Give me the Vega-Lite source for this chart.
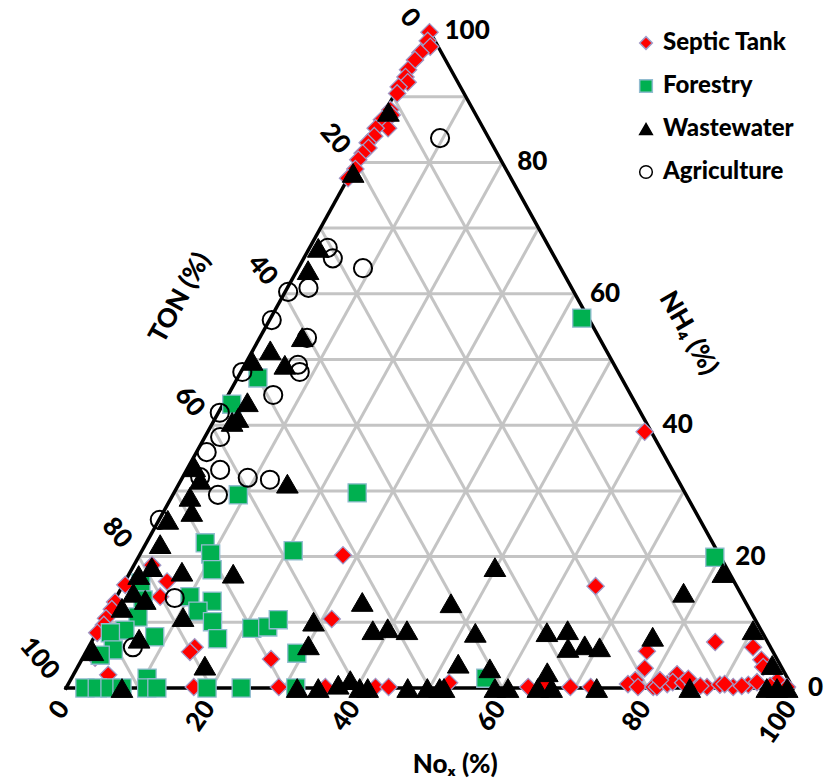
{
  "$schema": "https://vega.github.io/schema/vega-lite/v6.json",
  "width": 830,
  "height": 779,
  "autosize": {"type": "fit", "contains": "padding"},
  "padding": 0,
  "background": "white",
  "config": {"view": {"stroke": null}, "font": "Lato"},
  "datasets": {
    "grid": [
      {"NH4": 10, "NOx": 0, "NH4b": 10, "NOxb": 90},
      {"NH4": 20, "NOx": 0, "NH4b": 20, "NOxb": 80},
      {"NH4": 30, "NOx": 0, "NH4b": 30, "NOxb": 70},
      {"NH4": 40, "NOx": 0, "NH4b": 40, "NOxb": 60},
      {"NH4": 50, "NOx": 0, "NH4b": 50, "NOxb": 50},
      {"NH4": 60, "NOx": 0, "NH4b": 60, "NOxb": 40},
      {"NH4": 70, "NOx": 0, "NH4b": 70, "NOxb": 30},
      {"NH4": 80, "NOx": 0, "NH4b": 80, "NOxb": 20},
      {"NH4": 90, "NOx": 0, "NH4b": 90, "NOxb": 10},
      {"NH4": 0, "NOx": 10, "NH4b": 90, "NOxb": 10},
      {"NH4": 0, "NOx": 20, "NH4b": 80, "NOxb": 20},
      {"NH4": 0, "NOx": 30, "NH4b": 70, "NOxb": 30},
      {"NH4": 0, "NOx": 40, "NH4b": 60, "NOxb": 40},
      {"NH4": 0, "NOx": 50, "NH4b": 50, "NOxb": 50},
      {"NH4": 0, "NOx": 60, "NH4b": 40, "NOxb": 60},
      {"NH4": 0, "NOx": 70, "NH4b": 30, "NOxb": 70},
      {"NH4": 0, "NOx": 80, "NH4b": 20, "NOxb": 80},
      {"NH4": 0, "NOx": 90, "NH4b": 10, "NOxb": 90},
      {"NH4": 0, "NOx": 90, "NH4b": 90, "NOxb": 0},
      {"NH4": 0, "NOx": 80, "NH4b": 80, "NOxb": 0},
      {"NH4": 0, "NOx": 70, "NH4b": 70, "NOxb": 0},
      {"NH4": 0, "NOx": 60, "NH4b": 60, "NOxb": 0},
      {"NH4": 0, "NOx": 50, "NH4b": 50, "NOxb": 0},
      {"NH4": 0, "NOx": 40, "NH4b": 40, "NOxb": 0},
      {"NH4": 0, "NOx": 30, "NH4b": 30, "NOxb": 0},
      {"NH4": 0, "NOx": 20, "NH4b": 20, "NOxb": 0},
      {"NH4": 0, "NOx": 10, "NH4b": 10, "NOxb": 0}
    ],
    "frame": [
      {"NH4": 0, "NOx": 0, "NH4b": 0, "NOxb": 100},
      {"NH4": 0, "NOx": 100, "NH4b": 100, "NOxb": 0},
      {"NH4": 100, "NOx": 0, "NH4b": 0, "NOxb": 0}
    ],
    "samples": [
      {"source": "Septic Tank", "NH4": 99.8, "NOx": 0.1},
      {"source": "Septic Tank", "NH4": 98.5, "NOx": 0.5},
      {"source": "Septic Tank", "NH4": 97.6, "NOx": 1.3},
      {"source": "Septic Tank", "NH4": 96.7, "NOx": 0.4},
      {"source": "Septic Tank", "NH4": 95.6, "NOx": 0.2},
      {"source": "Septic Tank", "NH4": 94.1, "NOx": 0.0},
      {"source": "Septic Tank", "NH4": 93.0, "NOx": 0.2},
      {"source": "Septic Tank", "NH4": 92.2, "NOx": 0.9},
      {"source": "Septic Tank", "NH4": 91.5, "NOx": 0.0},
      {"source": "Septic Tank", "NH4": 90.5, "NOx": 0.3},
      {"source": "Septic Tank", "NH4": 88.0, "NOx": 0.6},
      {"source": "Septic Tank", "NH4": 87.2, "NOx": 1.2},
      {"source": "Septic Tank", "NH4": 86.5, "NOx": 0.2},
      {"source": "Septic Tank", "NH4": 85.2, "NOx": 1.7},
      {"source": "Septic Tank", "NH4": 85.2, "NOx": 0.0},
      {"source": "Septic Tank", "NH4": 84.0, "NOx": 0.4},
      {"source": "Septic Tank", "NH4": 83.0, "NOx": 0.0},
      {"source": "Septic Tank", "NH4": 82.2, "NOx": 0.5},
      {"source": "Septic Tank", "NH4": 81.4, "NOx": 0.1},
      {"source": "Septic Tank", "NH4": 80.4, "NOx": 0.0},
      {"source": "Septic Tank", "NH4": 79.0, "NOx": 0.3},
      {"source": "Septic Tank", "NH4": 77.6, "NOx": 0.0},
      {"source": "Septic Tank", "NH4": 39.0, "NOx": 60.1},
      {"source": "Septic Tank", "NH4": 20.2, "NOx": 28.0},
      {"source": "Septic Tank", "NH4": 15.5, "NOx": 65.1},
      {"source": "Septic Tank", "NH4": 7.0, "NOx": 85.8},
      {"source": "Septic Tank", "NH4": 10.5, "NOx": 31.3},
      {"source": "Septic Tank", "NH4": 4.4, "NOx": 26.0},
      {"source": "Septic Tank", "NH4": 0.15, "NOx": 29.2},
      {"source": "Septic Tank", "NH4": 0.15, "NOx": 35.6},
      {"source": "Septic Tank", "NH4": 0.15, "NOx": 42.5},
      {"source": "Septic Tank", "NH4": 0.15, "NOx": 44.3},
      {"source": "Septic Tank", "NH4": 0.8, "NOx": 52.3},
      {"source": "Septic Tank", "NH4": 0.15, "NOx": 63.5},
      {"source": "Septic Tank", "NH4": 0.8, "NOx": 65.5},
      {"source": "Septic Tank", "NH4": 0.15, "NOx": 69.3},
      {"source": "Septic Tank", "NH4": 0.15, "NOx": 72.1},
      {"source": "Septic Tank", "NH4": 5.6, "NOx": 77.1},
      {"source": "Septic Tank", "NH4": 3.0, "NOx": 78.1},
      {"source": "Septic Tank", "NH4": 1.2, "NOx": 77.7},
      {"source": "Septic Tank", "NH4": 0.6, "NOx": 77.0},
      {"source": "Septic Tank", "NH4": 0.15, "NOx": 78.6},
      {"source": "Septic Tank", "NH4": 0.15, "NOx": 80.7},
      {"source": "Septic Tank", "NH4": 0.15, "NOx": 81.2},
      {"source": "Septic Tank", "NH4": 0.6, "NOx": 82.4},
      {"source": "Septic Tank", "NH4": 2.1, "NOx": 83.0},
      {"source": "Septic Tank", "NH4": 0.9, "NOx": 83.0},
      {"source": "Septic Tank", "NH4": 0.8, "NOx": 84.5},
      {"source": "Septic Tank", "NH4": 0.5, "NOx": 86.0},
      {"source": "Septic Tank", "NH4": 0.15, "NOx": 88.1},
      {"source": "Septic Tank", "NH4": 0.5, "NOx": 89.7},
      {"source": "Septic Tank", "NH4": 0.15, "NOx": 91.7},
      {"source": "Septic Tank", "NH4": 0.5, "NOx": 93.6},
      {"source": "Septic Tank", "NH4": 6.2, "NOx": 91.4},
      {"source": "Septic Tank", "NH4": 4.3, "NOx": 93.5},
      {"source": "Septic Tank", "NH4": 3.2, "NOx": 94.3},
      {"source": "Septic Tank", "NH4": 0.9, "NOx": 94.6},
      {"source": "Septic Tank", "NH4": 1.1, "NOx": 97.3},
      {"source": "Septic Tank", "NH4": 0.15, "NOx": 99.1},
      {"source": "Septic Tank", "NH4": 0.3, "NOx": 87.1},
      {"source": "Septic Tank", "NH4": 0.3, "NOx": 92.8},
      {"source": "Septic Tank", "NH4": 1.2, "NOx": 81.1},
      {"source": "Septic Tank", "NH4": 1.4, "NOx": 84.9},
      {"source": "Septic Tank", "NH4": 0.6, "NOx": 90.3},
      {"source": "Septic Tank", "NH4": 0.3, "NOx": 96.7},
      {"source": "Septic Tank", "NH4": 16.2, "NOx": 5.8},
      {"source": "Septic Tank", "NH4": 18.7, "NOx": 2.5},
      {"source": "Septic Tank", "NH4": 15.7, "NOx": 0.3},
      {"source": "Septic Tank", "NH4": 13.1, "NOx": 0.2},
      {"source": "Septic Tank", "NH4": 12.0, "NOx": 0.3},
      {"source": "Septic Tank", "NH4": 10.6, "NOx": 0.2},
      {"source": "Septic Tank", "NH4": 9.6, "NOx": 0.4},
      {"source": "Septic Tank", "NH4": 8.4, "NOx": 0.1},
      {"source": "Septic Tank", "NH4": 13.9, "NOx": 6.0},
      {"source": "Septic Tank", "NH4": 6.2, "NOx": 14.6},
      {"source": "Septic Tank", "NH4": 5.5, "NOx": 14.3},
      {"source": "Septic Tank", "NH4": 4.6, "NOx": 1.7},
      {"source": "Septic Tank", "NH4": 2.0, "NOx": 4.8},
      {"source": "Septic Tank", "NH4": 0.15, "NOx": 17.5},
      {"source": "Forestry", "NH4": 56.3, "NOx": 42.8},
      {"source": "Forestry", "NH4": 19.9, "NOx": 79.3},
      {"source": "Forestry", "NH4": 29.7, "NOx": 25.2},
      {"source": "Forestry", "NH4": 29.4, "NOx": 9.0},
      {"source": "Forestry", "NH4": 20.9, "NOx": 20.8},
      {"source": "Forestry", "NH4": 47.2, "NOx": 2.8},
      {"source": "Forestry", "NH4": 43.2, "NOx": 1.2},
      {"source": "Forestry", "NH4": 1.5, "NOx": 57.0},
      {"source": "Forestry", "NH4": 5.3, "NOx": 29.1},
      {"source": "Forestry", "NH4": 9.1, "NOx": 21.0},
      {"source": "Forestry", "NH4": 9.3, "NOx": 23.1},
      {"source": "Forestry", "NH4": 10.4, "NOx": 24.0},
      {"source": "Forestry", "NH4": 0, "NOx": 31.6},
      {"source": "Forestry", "NH4": 0, "NOx": 24.1},
      {"source": "Forestry", "NH4": 0, "NOx": 19.4},
      {"source": "Forestry", "NH4": 22.1, "NOx": 8.1},
      {"source": "Forestry", "NH4": 20.4, "NOx": 9.7},
      {"source": "Forestry", "NH4": 18.0, "NOx": 11.1},
      {"source": "Forestry", "NH4": 13.9, "NOx": 10.1},
      {"source": "Forestry", "NH4": 13.2, "NOx": 13.5},
      {"source": "Forestry", "NH4": 11.7, "NOx": 12.3},
      {"source": "Forestry", "NH4": 10.1, "NOx": 15.1},
      {"source": "Forestry", "NH4": 7.5, "NOx": 17.1},
      {"source": "Forestry", "NH4": 16.0, "NOx": 2.3},
      {"source": "Forestry", "NH4": 13.4, "NOx": 3.9},
      {"source": "Forestry", "NH4": 10.8, "NOx": 4.5},
      {"source": "Forestry", "NH4": 8.8, "NOx": 3.7},
      {"source": "Forestry", "NH4": 8.4, "NOx": 1.9},
      {"source": "Forestry", "NH4": 7.8, "NOx": 8.3},
      {"source": "Forestry", "NH4": 5.8, "NOx": 3.6},
      {"source": "Forestry", "NH4": 5.0, "NOx": 2.2},
      {"source": "Forestry", "NH4": 1.5, "NOx": 10.4},
      {"source": "Forestry", "NH4": 0, "NOx": 2.6},
      {"source": "Forestry", "NH4": 0, "NOx": 4.3},
      {"source": "Forestry", "NH4": 0, "NOx": 6.05},
      {"source": "Forestry", "NH4": 0, "NOx": 7.7},
      {"source": "Forestry", "NH4": 0, "NOx": 11.1},
      {"source": "Forestry", "NH4": 0, "NOx": 12.5},
      {"source": "Wastewater", "NH4": 87.7, "NOx": 0.5},
      {"source": "Wastewater", "NH4": 78.4, "NOx": 0.3},
      {"source": "Wastewater", "NH4": 67.0, "NOx": 1.2},
      {"source": "Wastewater", "NH4": 63.6, "NOx": 1.5},
      {"source": "Wastewater", "NH4": 53.4, "NOx": 5.8},
      {"source": "Wastewater", "NH4": 51.4, "NOx": 2.4},
      {"source": "Wastewater", "NH4": 49.8, "NOx": 0.7},
      {"source": "Wastewater", "NH4": 49.2, "NOx": 5.5},
      {"source": "Wastewater", "NH4": 43.5, "NOx": 3.2},
      {"source": "Wastewater", "NH4": 41.1, "NOx": 3.1},
      {"source": "Wastewater", "NH4": 40.5, "NOx": 2.6},
      {"source": "Wastewater", "NH4": 33.6, "NOx": 0.9},
      {"source": "Wastewater", "NH4": 31.7, "NOx": 2.6},
      {"source": "Wastewater", "NH4": 29.1, "NOx": 2.5},
      {"source": "Wastewater", "NH4": 26.8, "NOx": 3.9},
      {"source": "Wastewater", "NH4": 25.6, "NOx": 1.2},
      {"source": "Wastewater", "NH4": 21.9, "NOx": 2.0},
      {"source": "Wastewater", "NH4": 31.1, "NOx": 14.9},
      {"source": "Wastewater", "NH4": 18.4, "NOx": 2.6},
      {"source": "Wastewater", "NH4": 17.7, "NOx": 7.1},
      {"source": "Wastewater", "NH4": 17.4, "NOx": 14.3},
      {"source": "Wastewater", "NH4": 17.2, "NOx": 1.4},
      {"source": "Wastewater", "NH4": 14.5, "NOx": 2.0},
      {"source": "Wastewater", "NH4": 13.4, "NOx": 4.2},
      {"source": "Wastewater", "NH4": 12.2, "NOx": 1.6},
      {"source": "Wastewater", "NH4": 10.8, "NOx": 10.7},
      {"source": "Wastewater", "NH4": 7.5, "NOx": 6.3},
      {"source": "Wastewater", "NH4": 5.6, "NOx": 0.9},
      {"source": "Wastewater", "NH4": 3.4, "NOx": 17.4},
      {"source": "Wastewater", "NH4": 0, "NOx": 7.7},
      {"source": "Wastewater", "NH4": 13.1, "NOx": 34.2},
      {"source": "Wastewater", "NH4": 10.1, "NOx": 29.0},
      {"source": "Wastewater", "NH4": 6.5, "NOx": 30.1},
      {"source": "Wastewater", "NH4": 8.8, "NOx": 37.8},
      {"source": "Wastewater", "NH4": 9.1, "NOx": 39.7},
      {"source": "Wastewater", "NH4": 8.8, "NOx": 42.5},
      {"source": "Wastewater", "NH4": 12.9, "NOx": 46.5},
      {"source": "Wastewater", "NH4": 3.7, "NOx": 52.1},
      {"source": "Wastewater", "NH4": 18.4, "NOx": 49.8},
      {"source": "Wastewater", "NH4": 8.4, "NOx": 52.1},
      {"source": "Wastewater", "NH4": 8.5, "NOx": 61.9},
      {"source": "Wastewater", "NH4": 8.8, "NOx": 64.6},
      {"source": "Wastewater", "NH4": 6.1, "NOx": 66.0},
      {"source": "Wastewater", "NH4": 6.5, "NOx": 68.1},
      {"source": "Wastewater", "NH4": 6.2, "NOx": 70.3},
      {"source": "Wastewater", "NH4": 7.8, "NOx": 76.8},
      {"source": "Wastewater", "NH4": 3.0, "NOx": 56.8},
      {"source": "Wastewater", "NH4": 2.4, "NOx": 65.0},
      {"source": "Wastewater", "NH4": 14.5, "NOx": 77.7},
      {"source": "Wastewater", "NH4": 17.5, "NOx": 81.6},
      {"source": "Wastewater", "NH4": 8.8, "NOx": 90.1},
      {"source": "Wastewater", "NH4": 3.5, "NOx": 95.4},
      {"source": "Wastewater", "NH4": 0, "NOx": 31.8},
      {"source": "Wastewater", "NH4": 0, "NOx": 34.7},
      {"source": "Wastewater", "NH4": 0.5, "NOx": 37.2},
      {"source": "Wastewater", "NH4": 1.2, "NOx": 38.5},
      {"source": "Wastewater", "NH4": 0, "NOx": 40.4},
      {"source": "Wastewater", "NH4": 0, "NOx": 41.5},
      {"source": "Wastewater", "NH4": 0, "NOx": 47.0},
      {"source": "Wastewater", "NH4": 0, "NOx": 49.7},
      {"source": "Wastewater", "NH4": 0, "NOx": 51.4},
      {"source": "Wastewater", "NH4": 0, "NOx": 52.0},
      {"source": "Wastewater", "NH4": 0, "NOx": 59.0},
      {"source": "Wastewater", "NH4": 0, "NOx": 60.8},
      {"source": "Wastewater", "NH4": 0, "NOx": 64.9},
      {"source": "Wastewater", "NH4": 0, "NOx": 66.8},
      {"source": "Wastewater", "NH4": 0, "NOx": 73.0},
      {"source": "Wastewater", "NH4": 0, "NOx": 85.8},
      {"source": "Wastewater", "NH4": 0, "NOx": 96.4},
      {"source": "Wastewater", "NH4": 0, "NOx": 97.8},
      {"source": "Wastewater", "NH4": 0, "NOx": 99.2},
      {"source": "Agriculture", "NH4": 83.7, "NOx": 9.6},
      {"source": "Agriculture", "NH4": 67.0, "NOx": 2.5},
      {"source": "Agriculture", "NH4": 65.4, "NOx": 4.0},
      {"source": "Agriculture", "NH4": 63.9, "NOx": 8.9},
      {"source": "Agriculture", "NH4": 60.9, "NOx": 2.9},
      {"source": "Agriculture", "NH4": 60.3, "NOx": 0.4},
      {"source": "Agriculture", "NH4": 56.0, "NOx": 0.3},
      {"source": "Agriculture", "NH4": 53.3, "NOx": 6.5},
      {"source": "Agriculture", "NH4": 49.2, "NOx": 7.3},
      {"source": "Agriculture", "NH4": 48.1, "NOx": 8.1},
      {"source": "Agriculture", "NH4": 48.1, "NOx": 0.2},
      {"source": "Agriculture", "NH4": 44.6, "NOx": 6.2},
      {"source": "Agriculture", "NH4": 41.9, "NOx": 0.2},
      {"source": "Agriculture", "NH4": 38.2, "NOx": 2.1},
      {"source": "Agriculture", "NH4": 35.9, "NOx": 1.4},
      {"source": "Agriculture", "NH4": 33.2, "NOx": 4.6},
      {"source": "Agriculture", "NH4": 32.1, "NOx": 2.4},
      {"source": "Agriculture", "NH4": 32.0, "NOx": 9.0},
      {"source": "Agriculture", "NH4": 31.7, "NOx": 12.2},
      {"source": "Agriculture", "NH4": 29.4, "NOx": 6.2},
      {"source": "Agriculture", "NH4": 25.6, "NOx": 0.1},
      {"source": "Agriculture", "NH4": 13.7, "NOx": 8.1},
      {"source": "Agriculture", "NH4": 6.2, "NOx": 6.1}
    ],
    "ticksRight": [
      {"label": "0", "NH4": 0, "NOx": 100},
      {"label": "20", "NH4": 20, "NOx": 80},
      {"label": "40", "NH4": 40, "NOx": 60},
      {"label": "60", "NH4": 60, "NOx": 40},
      {"label": "80", "NH4": 80, "NOx": 20},
      {"label": "100", "NH4": 100, "NOx": 0}
    ],
    "ticksLeft": [
      {"label": "0", "NH4": 100, "NOx": 0},
      {"label": "20", "NH4": 80, "NOx": 0},
      {"label": "40", "NH4": 60, "NOx": 0},
      {"label": "60", "NH4": 40, "NOx": 0},
      {"label": "80", "NH4": 20, "NOx": 0},
      {"label": "100", "NH4": 0, "NOx": 0}
    ],
    "ticksBottom": [
      {"label": "0", "NH4": 0, "NOx": 0},
      {"label": "20", "NH4": 0, "NOx": 20},
      {"label": "40", "NH4": 0, "NOx": 40},
      {"label": "60", "NH4": 0, "NOx": 60},
      {"label": "80", "NH4": 0, "NOx": 80},
      {"label": "100", "NH4": 0, "NOx": 100}
    ],
    "titles": [
      {"label": "TON (%)", "NH4": 59.4, "NOx": -14.0, "angle": 299},
      {"label": "NH₄ (%)", "NH4": 54.0, "NOx": 58.6, "angle": 60},
      {"label": "Noₓ (%)", "NH4": -11.7, "NOx": 59.4, "angle": 0}
    ]
  },
  "layer": [
    {
      "data": {"name": "grid"},
      "transform": [
        {"calculate": "datum.NOx + datum.NH4 / 2", "as": "x"},
        {"calculate": "datum.NOxb + datum.NH4b / 2", "as": "x2"}
      ],
      "mark": {"type": "rule", "color": "#C4C4C4", "strokeWidth": 3},
      "encoding": {
        "x": {"field": "x", "type": "quantitative", "scale": {"domain": [-9.08, 105.09], "nice": false, "zero": false}, "axis": null},
        "y": {"field": "NH4", "type": "quantitative", "scale": {"domain": [-13.85, 104.72], "nice": false, "zero": false}, "axis": null},
        "x2": {"field": "x2"},
        "y2": {"field": "NH4b"}
      }
    },
    {
      "data": {"name": "frame"},
      "transform": [
        {"calculate": "datum.NOx + datum.NH4 / 2", "as": "x"},
        {"calculate": "datum.NOxb + datum.NH4b / 2", "as": "x2"}
      ],
      "mark": {"type": "rule", "color": "#000000", "strokeWidth": 3.5, "strokeCap": "square"},
      "encoding": {
        "x": {"field": "x", "type": "quantitative", "scale": {"domain": [-9.08, 105.09], "nice": false, "zero": false}, "axis": null},
        "y": {"field": "NH4", "type": "quantitative", "scale": {"domain": [-13.85, 104.72], "nice": false, "zero": false}, "axis": null},
        "x2": {"field": "x2"},
        "y2": {"field": "NH4b"}
      }
    },
    {
      "data": {"name": "samples"},
      "transform": [
        {"filter": "datum.source === 'Septic Tank'"},
        {"calculate": "datum.NOx + datum.NH4 / 2", "as": "x"}
      ],
      "mark": {"type": "point", "filled": true, "opacity": 1, "size": 300, "strokeWidth": 1.3},
      "encoding": {
        "x": {"field": "x", "type": "quantitative", "scale": {"domain": [-9.08, 105.09], "nice": false, "zero": false}, "axis": null},
        "y": {"field": "NH4", "type": "quantitative", "scale": {"domain": [-13.85, 104.72], "nice": false, "zero": false}, "axis": null},
        "shape": {"field": "source", "type": "nominal", "scale": {"domain": ["Septic Tank", "Forestry", "Wastewater", "Agriculture"], "range": ["diamond", "square", "triangle-up", "circle"]}, "legend": {"title": null, "orient": "none", "legendX": 634, "legendY": 31, "padding": 0, "labelFont": "Lato", "labelFontSize": 24, "labelFontWeight": 900, "labelColor": "#000000", "symbolSize": 160, "symbolStrokeWidth": 1.5, "rowPadding": 19, "labelOffset": 5}},
        "fill": {"field": "source", "type": "nominal", "scale": {"domain": ["Septic Tank", "Forestry", "Wastewater", "Agriculture"], "range": ["#FF0000", "#00B050", "#000000", "transparent"]}, "legend": {"title": null, "orient": "none", "legendX": 634, "legendY": 31, "padding": 0, "labelFont": "Lato", "labelFontSize": 24, "labelFontWeight": 900, "labelColor": "#000000", "symbolSize": 160, "symbolStrokeWidth": 1.5, "rowPadding": 19, "labelOffset": 5}},
        "stroke": {"field": "source", "type": "nominal", "scale": {"domain": ["Septic Tank", "Forestry", "Wastewater", "Agriculture"], "range": ["#A09AC8", "#92BCD0", "#000000", "#000000"]}, "legend": {"title": null, "orient": "none", "legendX": 634, "legendY": 31, "padding": 0, "labelFont": "Lato", "labelFontSize": 24, "labelFontWeight": 900, "labelColor": "#000000", "symbolSize": 160, "symbolStrokeWidth": 1.5, "rowPadding": 19, "labelOffset": 5}}
      }
    },
    {
      "data": {"name": "samples"},
      "transform": [
        {"filter": "datum.source === 'Forestry'"},
        {"calculate": "datum.NOx + datum.NH4 / 2", "as": "x"}
      ],
      "mark": {"type": "point", "filled": true, "opacity": 1, "size": 330, "strokeWidth": 1.3},
      "encoding": {
        "x": {"field": "x", "type": "quantitative", "scale": {"domain": [-9.08, 105.09], "nice": false, "zero": false}, "axis": null},
        "y": {"field": "NH4", "type": "quantitative", "scale": {"domain": [-13.85, 104.72], "nice": false, "zero": false}, "axis": null},
        "shape": {"field": "source", "type": "nominal", "scale": {"domain": ["Septic Tank", "Forestry", "Wastewater", "Agriculture"], "range": ["diamond", "square", "triangle-up", "circle"]}},
        "fill": {"field": "source", "type": "nominal", "scale": {"domain": ["Septic Tank", "Forestry", "Wastewater", "Agriculture"], "range": ["#FF0000", "#00B050", "#000000", "transparent"]}},
        "stroke": {"field": "source", "type": "nominal", "scale": {"domain": ["Septic Tank", "Forestry", "Wastewater", "Agriculture"], "range": ["#A09AC8", "#92BCD0", "#000000", "#000000"]}}
      }
    },
    {
      "data": {"name": "samples"},
      "transform": [
        {"filter": "datum.source === 'Wastewater'"},
        {"calculate": "datum.NOx + datum.NH4 / 2", "as": "x"}
      ],
      "mark": {"type": "point", "filled": true, "opacity": 1, "size": 470, "strokeWidth": 1},
      "encoding": {
        "x": {"field": "x", "type": "quantitative", "scale": {"domain": [-9.08, 105.09], "nice": false, "zero": false}, "axis": null},
        "y": {"field": "NH4", "type": "quantitative", "scale": {"domain": [-13.85, 104.72], "nice": false, "zero": false}, "axis": null},
        "shape": {"field": "source", "type": "nominal", "scale": {"domain": ["Septic Tank", "Forestry", "Wastewater", "Agriculture"], "range": ["diamond", "square", "triangle-up", "circle"]}},
        "fill": {"field": "source", "type": "nominal", "scale": {"domain": ["Septic Tank", "Forestry", "Wastewater", "Agriculture"], "range": ["#FF0000", "#00B050", "#000000", "transparent"]}},
        "stroke": {"field": "source", "type": "nominal", "scale": {"domain": ["Septic Tank", "Forestry", "Wastewater", "Agriculture"], "range": ["#A09AC8", "#92BCD0", "#000000", "#000000"]}}
      }
    },
    {
      "data": {"name": "samples"},
      "transform": [
        {"filter": "datum.source === 'Agriculture'"},
        {"calculate": "datum.NOx + datum.NH4 / 2", "as": "x"}
      ],
      "mark": {"type": "point", "filled": true, "opacity": 1, "size": 330, "strokeWidth": 2},
      "encoding": {
        "x": {"field": "x", "type": "quantitative", "scale": {"domain": [-9.08, 105.09], "nice": false, "zero": false}, "axis": null},
        "y": {"field": "NH4", "type": "quantitative", "scale": {"domain": [-13.85, 104.72], "nice": false, "zero": false}, "axis": null},
        "shape": {"field": "source", "type": "nominal", "scale": {"domain": ["Septic Tank", "Forestry", "Wastewater", "Agriculture"], "range": ["diamond", "square", "triangle-up", "circle"]}},
        "fill": {"field": "source", "type": "nominal", "scale": {"domain": ["Septic Tank", "Forestry", "Wastewater", "Agriculture"], "range": ["#FF0000", "#00B050", "#000000", "transparent"]}},
        "stroke": {"field": "source", "type": "nominal", "scale": {"domain": ["Septic Tank", "Forestry", "Wastewater", "Agriculture"], "range": ["#A09AC8", "#92BCD0", "#000000", "#000000"]}}
      }
    },
    {
      "data": {"name": "ticksRight"},
      "transform": [{"calculate": "datum.NOx + datum.NH4 / 2", "as": "x"}],
      "mark": {"type": "text", "align": "left", "baseline": "middle", "dx": 15, "font": "Lato", "fontSize": 26, "fontWeight": 900, "color": "#000000"},
      "encoding": {
        "x": {"field": "x", "type": "quantitative", "scale": {"domain": [-9.08, 105.09], "nice": false, "zero": false}, "axis": null},
        "y": {"field": "NH4", "type": "quantitative", "scale": {"domain": [-13.85, 104.72], "nice": false, "zero": false}, "axis": null},
        "text": {"field": "label"}
      }
    },
    {
      "data": {"name": "ticksLeft"},
      "transform": [
        {"filter": "datum.label !== '0'"},
        {"calculate": "datum.NOx + datum.NH4 / 2", "as": "x"}
      ],
      "mark": {"type": "text", "align": "right", "baseline": "middle", "angle": 50, "dx": -17, "dy": 1.5, "font": "Lato", "fontSize": 26, "fontWeight": 900, "color": "#000000"},
      "encoding": {
        "x": {"field": "x", "type": "quantitative", "scale": {"domain": [-9.08, 105.09], "nice": false, "zero": false}, "axis": null},
        "y": {"field": "NH4", "type": "quantitative", "scale": {"domain": [-13.85, 104.72], "nice": false, "zero": false}, "axis": null},
        "text": {"field": "label"}
      }
    },
    {
      "data": {"name": "ticksLeft"},
      "transform": [
        {"filter": "datum.label === '0'"},
        {"calculate": "datum.NOx + datum.NH4 / 2", "as": "x"}
      ],
      "mark": {"type": "text", "align": "right", "baseline": "middle", "angle": 50, "dx": -15, "dy": 7, "font": "Lato", "fontSize": 26, "fontWeight": 900, "color": "#000000"},
      "encoding": {
        "x": {"field": "x", "type": "quantitative", "scale": {"domain": [-9.08, 105.09], "nice": false, "zero": false}, "axis": null},
        "y": {"field": "NH4", "type": "quantitative", "scale": {"domain": [-13.85, 104.72], "nice": false, "zero": false}, "axis": null},
        "text": {"field": "label"}
      }
    },
    {
      "data": {"name": "ticksBottom"},
      "transform": [{"calculate": "datum.NOx + datum.NH4 / 2", "as": "x"}],
      "mark": {"type": "text", "align": "right", "baseline": "middle", "angle": 305, "dx": -14, "dy": 7.5, "font": "Lato", "fontSize": 26, "fontWeight": 900, "color": "#000000"},
      "encoding": {
        "x": {"field": "x", "type": "quantitative", "scale": {"domain": [-9.08, 105.09], "nice": false, "zero": false}, "axis": null},
        "y": {"field": "NH4", "type": "quantitative", "scale": {"domain": [-13.85, 104.72], "nice": false, "zero": false}, "axis": null},
        "text": {"field": "label"}
      }
    },
    {
      "data": {"name": "titles"},
      "transform": [{"calculate": "datum.NOx + datum.NH4 / 2", "as": "x"}],
      "mark": {"type": "text", "align": "center", "baseline": "middle", "font": "Lato", "fontSize": 26, "fontWeight": 900, "color": "#000000"},
      "encoding": {
        "x": {"field": "x", "type": "quantitative", "scale": {"domain": [-9.08, 105.09], "nice": false, "zero": false}, "axis": null},
        "y": {"field": "NH4", "type": "quantitative", "scale": {"domain": [-13.85, 104.72], "nice": false, "zero": false}, "axis": null},
        "text": {"field": "label"},
        "angle": {"field": "angle", "type": "quantitative", "scale": null}
      }
    }
  ]
}
